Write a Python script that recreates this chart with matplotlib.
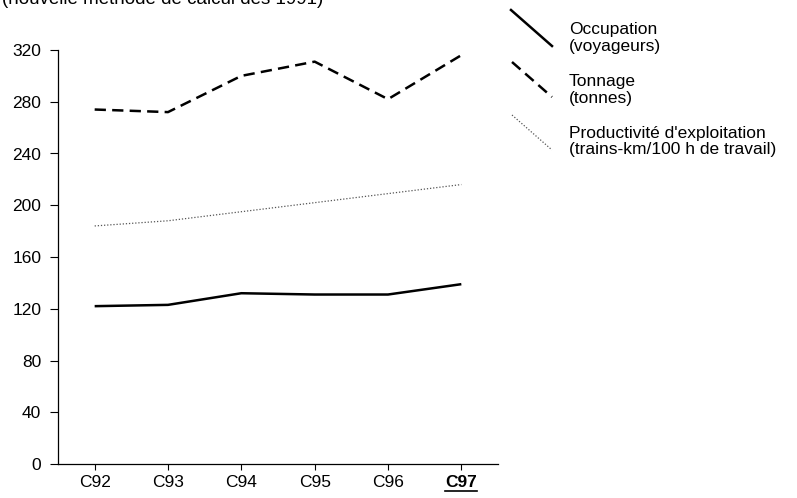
import matplotlib
matplotlib.use("Agg")
import matplotlib.pyplot as plt
from matplotlib.lines import Line2D

plt.rcParams["font.family"] = ["Liberation Sans", "DejaVu Sans"]

years = ["C92", "C93", "C94", "C95", "C96", "C97"]
occupation = [122, 123, 132, 131, 131, 139]
tonnage = [274, 272, 300, 311, 282, 316]
productivite = [184, 188, 195, 202, 209, 216]
yticks = [0, 40, 80, 120, 160, 200, 240, 280, 320]

fig = plt.figure(figsize=(7.97, 4.98), dpi=100)
ax = fig.add_axes([58 / 797, 1 - 464 / 498, 440 / 797, 414 / 498])

x = list(range(len(years)))
ax.plot(x, occupation, color="black", lw=1.8, solid_capstyle="butt")
ax.plot(x, tonnage, color="black", lw=1.8, linestyle=(0, (4.5, 2.5)))
ax.plot(x, productivite, color="#555555", lw=0.9, linestyle=(0, (1, 1.5)))

ax.set_xlim(-0.5, 5.5)
ax.set_ylim(0, 320)
ax.set_xticks(x)
ax.set_xticklabels(years, fontsize=12.5)
ax.set_yticks(yticks)
ax.tick_params(axis="y", labelsize=12.5, length=6, width=0.8, pad=6)
ax.tick_params(axis="x", labelsize=12.5, length=4, width=0.8, pad=4)
for s in ("top", "right"):
    ax.spines[s].set_visible(False)
ax.spines["left"].set_linewidth(0.9)
ax.spines["bottom"].set_linewidth(0.9)

last = ax.get_xticklabels()[-1]
last.set_fontweight("bold")

# subtitle, cut off at the top edge as in the scan
fig.text(0.002, 1 - 4 / 498, "(nouvelle méthode de calcul dès 1991)",
         fontsize=13.5, va="baseline", ha="left")

# legend: diagonal line samples with text
W, H = 797, 498
def fx(p):
    return p / W
def fy(p):
    return 1 - p / H

entries = [
    ((511, 10, 552, 46), dict(color="black", lw=1.8), "Occupation\n(voyageurs)", 38),
    ((512, 62, 552, 97), dict(color="black", lw=1.8, linestyle=(0, (4.5, 2.5))), "Tonnage\n(tonnes)", 90),
    ((512, 115, 552, 150), dict(color="#555555", lw=0.9, linestyle=(0, (1, 1.5))),
     "Productivité d'exploitation\n(trains-km/100 h de travail)", 141.5),
]
for (x0, y0, x1, y1), style, label, ty in entries:
    fig.add_artist(Line2D([fx(x0), fx(x1)], [fy(y0), fy(y1)], transform=fig.transFigure, **style))
    fig.text(fx(569), fy(ty), label, fontsize=12.5, va="center", ha="left", linespacing=1.12)

# underline the last year label
fig.canvas.draw()
bb = last.get_window_extent(fig.canvas.get_renderer())
uy = bb.y0 - 1
fig.add_artist(Line2D([bb.x0 / W, bb.x1 / W], [uy / H, uy / H],
                      transform=fig.transFigure, color="black", lw=1.2))

fig.savefig("out.png", dpi=100)
